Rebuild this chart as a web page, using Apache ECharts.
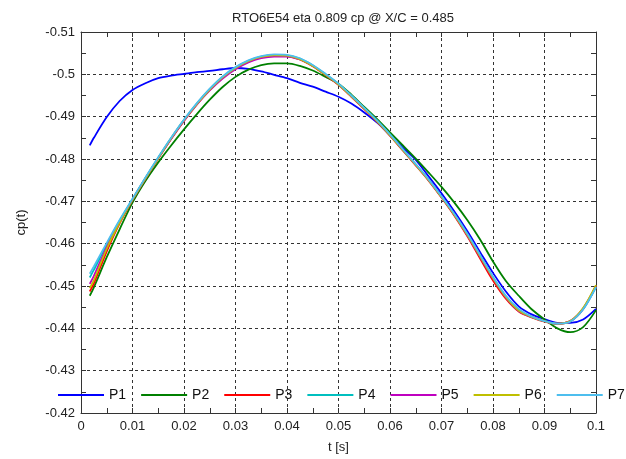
<!DOCTYPE html>
<html>
<head>
<meta charset="utf-8">
<script src="https://cdn.jsdelivr.net/npm/echarts@6/dist/echarts.min.js"></script>
<style>
html,body{margin:0;padding:0;background:#fff;}
#c{width:626px;height:459px;}
</style>
</head>
<body>
<div id="c"></div>
<script>
const titleText = 'RTO6E54 eta 0.809 cp @ X/C = 0.485';
const seriesNames = ['P1','P2','P3','P4','P5','P6','P7'];
const T = [0.0017,0.0025,0.005,0.0075,0.01,0.0125,0.015,0.0175,0.02,0.0225,0.025,0.0275,0.03,0.0325,0.035,0.0375,0.04,0.0425,0.045,0.0475,0.05,0.0525,0.055,0.0575,0.06,0.0625,0.065,0.0675,0.07,0.0725,0.075,0.0775,0.08,0.0825,0.085,0.0875,0.09,0.0925,0.095,0.0975,0.1];
const P1 = [-0.4832,-0.4850,-0.4899,-0.4937,-0.4963,-0.4979,-0.4991,-0.4997,-0.5001,-0.5005,-0.5008,-0.5012,-0.5015,-0.5013,-0.5007,-0.4999,-0.4991,-0.4980,-0.4971,-0.4959,-0.4947,-0.4931,-0.4910,-0.4886,-0.4856,-0.4827,-0.4798,-0.4759,-0.4719,-0.4676,-0.4630,-0.4580,-0.4531,-0.4487,-0.4452,-0.4433,-0.4422,-0.4413,-0.4413,-0.4421,-0.4446];
const P2 = [-0.4477,-0.4497,-0.4568,-0.4634,-0.4697,-0.4748,-0.4792,-0.4832,-0.4870,-0.4906,-0.4940,-0.4970,-0.4994,-0.5011,-0.5022,-0.5026,-0.5026,-0.5020,-0.5009,-0.4994,-0.4978,-0.4952,-0.4923,-0.4894,-0.4863,-0.4832,-0.4801,-0.4768,-0.4734,-0.4697,-0.4656,-0.4610,-0.4558,-0.4512,-0.4477,-0.4445,-0.4421,-0.4400,-0.4391,-0.4403,-0.4443];
const P3 = [-0.4487,-0.4506,-0.4582,-0.4648,-0.4703,-0.4753,-0.4801,-0.4847,-0.4890,-0.4929,-0.4963,-0.4992,-0.5014,-0.5030,-0.5040,-0.5044,-0.5043,-0.5035,-0.5019,-0.4998,-0.4975,-0.4947,-0.4918,-0.4888,-0.4855,-0.4820,-0.4785,-0.4749,-0.4709,-0.4666,-0.4618,-0.4565,-0.4513,-0.4470,-0.4440,-0.4426,-0.4416,-0.4411,-0.4417,-0.4447,-0.4501];
const P4 = [-0.4520,-0.4538,-0.4598,-0.4654,-0.4705,-0.4755,-0.4803,-0.4849,-0.4892,-0.4931,-0.4965,-0.4994,-0.5016,-0.5032,-0.5042,-0.5046,-0.5045,-0.5037,-0.5021,-0.5000,-0.4977,-0.4949,-0.4920,-0.4890,-0.4857,-0.4822,-0.4787,-0.4751,-0.4711,-0.4669,-0.4622,-0.4571,-0.4520,-0.4475,-0.4442,-0.4427,-0.4417,-0.4411,-0.4416,-0.4445,-0.4498];
const P5 = [-0.4505,-0.4524,-0.4592,-0.4651,-0.4704,-0.4754,-0.4802,-0.4848,-0.4891,-0.4929,-0.4962,-0.4990,-0.5012,-0.5028,-0.5038,-0.5042,-0.5042,-0.5035,-0.5020,-0.4999,-0.4976,-0.4948,-0.4919,-0.4889,-0.4856,-0.4821,-0.4786,-0.4750,-0.4710,-0.4668,-0.4620,-0.4569,-0.4518,-0.4473,-0.4441,-0.4427,-0.4417,-0.4411,-0.4417,-0.4446,-0.4499];
const P6 = [-0.4495,-0.4514,-0.4588,-0.4650,-0.4704,-0.4754,-0.4802,-0.4849,-0.4892,-0.4930,-0.4964,-0.4993,-0.5015,-0.5031,-0.5041,-0.5045,-0.5044,-0.5036,-0.5020,-0.4999,-0.4976,-0.4948,-0.4919,-0.4889,-0.4856,-0.4821,-0.4786,-0.4750,-0.4710,-0.4668,-0.4621,-0.4570,-0.4519,-0.4474,-0.4442,-0.4427,-0.4417,-0.4411,-0.4417,-0.4448,-0.4502];
const P7 = [-0.4529,-0.4546,-0.4602,-0.4656,-0.4706,-0.4756,-0.4804,-0.4850,-0.4893,-0.4932,-0.4966,-0.4995,-0.5017,-0.5033,-0.5043,-0.5047,-0.5046,-0.5038,-0.5022,-0.5001,-0.4978,-0.4950,-0.4921,-0.4891,-0.4858,-0.4823,-0.4788,-0.4752,-0.4712,-0.4670,-0.4624,-0.4573,-0.4522,-0.4477,-0.4446,-0.4428,-0.4417,-0.4411,-0.4416,-0.4445,-0.4497];
const allValues = [P1,P2,P3,P4,P5,P6,P7];
const colors = ['#0000ff','#008000','#ff0000','#00bfbf','#bf00bf','#bfbf00','#4dbeee'];
const xTicks = [0,0.01,0.02,0.03,0.04,0.05,0.06,0.07,0.08,0.09,0.1];
const yTicks = [-0.51,-0.5,-0.49,-0.48,-0.47,-0.46,-0.45,-0.44,-0.43,-0.42];

const fmt = v => String(parseFloat(Number(v).toFixed(3)));
const font = 'Liberation Sans, Arial, sans-serif';
const chart = echarts.init(document.getElementById('c'), null, {renderer:'canvas'});
const gridLine = {show:true, lineStyle:{color:'#333', type:[3,3], width:1}};
const baseX = {
  type:'value', min:xTicks[0], max:xTicks[xTicks.length-1], interval:0.01,
  axisLine:{show:true, onZero:false, lineStyle:{color:'#333', width:1}},
  axisTick:{show:true, inside:true, length:5, lineStyle:{color:'#333'}},
  minorTick:{show:true, splitNumber:2, length:5, lineStyle:{color:'#333'}}
};
const baseY = {
  type:'value', min:yTicks[0], max:yTicks[yTicks.length-1], interval:0.01, inverse:true,
  axisLine:{show:true, onZero:false, lineStyle:{color:'#333', width:1}},
  axisTick:{show:true, inside:true, length:5, lineStyle:{color:'#333'}},
  minorTick:{show:true, splitNumber:2, length:5, lineStyle:{color:'#333'}}
};
const option = {
  animation:false,
  backgroundColor:'#fff',
  color:colors,
  title:{text:titleText, left:338, textAlign:'center', top:7,
    textStyle:{fontFamily:font, fontSize:13, fontWeight:'normal', color:'#222'}},
  grid:{left:81, right:30, top:32, bottom:41},
  legend:{
    data:seriesNames, left:58, top:388, width:620, padding:0, orient:'horizontal',
    icon:'rect', itemWidth:46, itemHeight:2, itemGap:15,
    textStyle:{fontFamily:font, fontSize:14, color:'#111'}
  },
  xAxis:[
    Object.assign({}, baseX, {position:'bottom', name:'t [s]', nameLocation:'middle', nameGap:28,
      nameTextStyle:{fontFamily:font, fontSize:13, color:'#222'},
      axisLabel:{fontFamily:font, fontSize:13, color:'#222', margin:7, formatter:fmt},
      splitLine:gridLine}),
    Object.assign({}, baseX, {position:'top', axisLabel:{show:false}, splitLine:{show:false}})
  ],
  yAxis:[
    Object.assign({}, baseY, {position:'left', name:'cp(t)', nameLocation:'middle', nameGap:53,
      nameTextStyle:{fontFamily:font, fontSize:13, color:'#222'},
      axisLabel:{fontFamily:font, fontSize:13, color:'#222', margin:6, formatter:fmt},
      splitLine:gridLine}),
    Object.assign({}, baseY, {position:'right', axisLabel:{show:false}, splitLine:{show:false}})
  ],
  series: seriesNames.map((n,i)=>({
    name:n, type:'line', xAxisIndex:0, yAxisIndex:0,
    data:T.map((t,k)=>[t, allValues[i][k]]),
    showSymbol:false, symbol:'none', smooth:0.3,
    lineStyle:{color:colors[i], width:1.8},
    itemStyle:{color:colors[i]}
  }))
};
chart.setOption(option);
</script>
</body>
</html>
